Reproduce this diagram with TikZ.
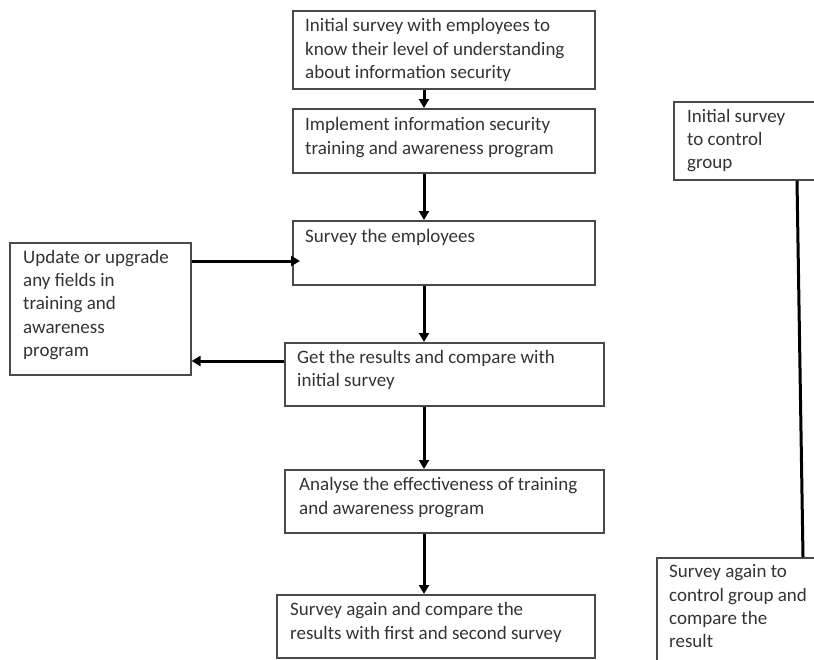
\documentclass[tikz,border=0pt]{standalone}
\usepackage{fontspec}
\setmainfont{Carlito}
\usetikzlibrary{arrows.meta,calc}
\definecolor{boxline}{HTML}{4A4A4A}
\definecolor{txtcol}{HTML}{333333}
\tikzset{
  box/.style={draw=boxline, line width=1.6pt, minimum width=0pt, minimum height=0pt, inner sep=0pt, anchor=north west, rectangle},
  txt/.style={anchor=north west, inner sep=0pt, align=left, text=txtcol, font=\fontsize{19}{23.3}\selectfont},
  flow/.style={line width=3pt, -{Triangle[width=10pt,length=9pt]}},
  plainline/.style={line width=3pt},
}
\newcommand{\bx}[5]{% name, x1, y1, x2, y2
  \node[box, minimum width=#4pt-#2pt, minimum height=#5pt-#3pt] (#1) at (#2,#3) {};}
\newcommand{\st}{\rule{0pt}{14pt}}
\begin{document}
\begin{tikzpicture}[x=1pt,y=-1pt]
\useasboundingbox (0,0) rectangle (814,659);
\clip (0,0) rectangle (814,659);
% boxes
\bx{b1}{292}{10}{594}{88}
\bx{b2}{292}{108}{594}{172}
\bx{b3}{292}{220}{594}{284}
\bx{b4}{284}{342}{603}{405}
\bx{b5}{284}{469}{603}{532}
\bx{b6}{276}{594}{594}{657}
\bx{upd}{9}{242}{190}{374}
\bx{c1}{673}{101}{900}{179}
\bx{c2}{656}{557}{900}{700}
% texts
\node[txt] (t1) at (305,17.5) {\st Initial survey with employees to\\know their level of understanding\\about information security};
\node[txt] (t2) at (305,116.5) {\st Implement information security\\training and awareness program};
\node[txt] (t3) at (305,228) {\st Survey the employees};
\node[txt] (t4) at (297,349) {\st Get the results and compare with\\initial survey};
\node[txt] (t5) at (299,476.5) {\st Analyse the effectiveness of training\\and awareness program};
\node[txt] (t6) at (290,601.5) {\st Survey again and compare the\\results with first and second survey};
\node[txt] (tu) at (23,249) {\st Update or upgrade\\any fields in\\training and\\awareness\\program};
\node[txt] (tc1) at (687,108) {\st Initial survey\\to control\\group};
\node[txt] (tc2) at (669,563.5) {\st Survey again to\\control group and\\compare the\\result};
% connectors
\coordinate (ax) at (424,0);
\coordinate (ya) at (0,261);
\coordinate (yb) at (0,361);
\draw[flow] (b1.south -| ax) -- (b2.north -| ax);
\draw[flow] (b2.south -| ax) -- (b3.north -| ax);
\draw[flow] (b3.south -| ax) -- (b4.north -| ax);
\draw[flow] (b4.south -| ax) -- (b5.north -| ax);
\draw[flow] (b5.south -| ax) -- (b6.north -| ax);
\draw[flow] (upd.east |- ya) -- ([xshift=8pt]b3.west |- ya);
\draw[flow] (b4.west |- yb) -- (upd.east |- yb);
\coordinate (ct) at (797,0);
\coordinate (cb) at (803,0);
\draw[plainline] (c1.south -| ct) -- (c2.north -| cb);
\end{tikzpicture}
\end{document}
